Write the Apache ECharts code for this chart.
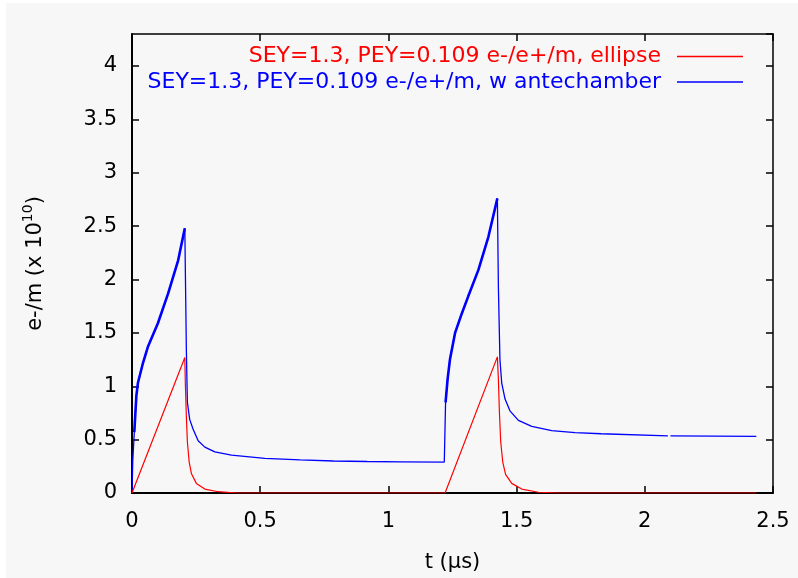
<!DOCTYPE html>
<html>
<head>
<meta charset="utf-8">
<script src="https://cdn.jsdelivr.net/npm/echarts@6/dist/echarts.min.js"></script>
<style>
html, body { margin: 0; padding: 0; background: #fff; }
#main { width: 798px; height: 578px; }
</style>
</head>
<body>
<div id="main"></div>
<script>
// ellipse (red)
var tRed = [0, 0.206, 0.208, 0.212, 0.216, 0.223, 0.232, 0.251, 0.284, 0.336, 0.41,
  1.221, 1.425, 1.429, 1.433, 1.438, 1.446, 1.457, 1.481, 1.52, 1.585, 1.67, 2.435];
var vRed = [0, 1.27, 1.03, 0.72, 0.48, 0.29, 0.18, 0.09, 0.037, 0.012, 0,
  0, 1.275, 1.065, 0.755, 0.48, 0.29, 0.175, 0.09, 0.037, 0.007, 0, 0];

// w antechamber (blue)
var tBlue = [0, 0.003, 0.009, 0.017, 0.023, 0.043, 0.062, 0.101, 0.141, 0.18, 0.206,
  0.212, 0.216, 0.225, 0.238, 0.258, 0.284, 0.323, 0.388, 0.518, 0.656, 0.786, 0.917, 1.05, 1.218,
  1.223, 1.231, 1.24, 1.26, 1.286, 1.311, 1.351, 1.39, 1.425,
  1.429, 1.435, 1.442, 1.455, 1.474, 1.507, 1.559, 1.637, 1.728, 1.83, 2.09, 2.093, 2.1, 2.435];
var vBlue = [0, 0.3, 0.57, 0.91, 1.03, 1.22, 1.37, 1.59, 1.87, 2.18, 2.48,
  1.34, 0.85, 0.69, 0.60, 0.49, 0.43, 0.385, 0.355, 0.325, 0.31, 0.30, 0.295, 0.292, 0.29,
  0.85, 1.07, 1.25, 1.50, 1.68, 1.84, 2.09, 2.40, 2.76,
  1.93, 1.25, 1.03, 0.88, 0.77, 0.68, 0.625, 0.585, 0.565, 0.555, 0.536, null, 0.535, 0.53];

var xTickLabels = ['0', '0.5', '1', '1.5', '2', '2.5'];
var yTickLabels = ['0', '0.5', '1', '1.5', '2', '2.5', '3', '3.5', '4'];

var nameRed = 'SEY=1.3, PEY=0.109 e-/e+/m, ellipse';
var nameBlue = 'SEY=1.3, PEY=0.109 e-/e+/m, w antechamber';

function pairs(t, v) {
  var out = [];
  for (var i = 0; i < t.length; i++) out.push([t[i], v[i] === null ? '-' : v[i]]);
  return out;
}
// rising parts look heavier in the original (noisy data), draw them thicker
function rising(t, v) {
  var out = [];
  for (var i = 0; i < t.length; i++) {
    var a = t[i] >= 0.009 && t[i] <= 0.206;
    var b = t[i] >= 1.223 && t[i] <= 1.425;
    if (a || b) out.push([t[i], v[i]]);
    if (t[i] === 0.206) out.push([0.207, '-']);
  }
  return out;
}

var FONT = 'DejaVu Sans';
var dom = document.getElementById('main');
var myChart = echarts.init(dom);
var option = {
  backgroundColor: '#fff',
  animation: false,
  textStyle: { fontFamily: FONT },
  graphic: [{
    type: 'rect', z: -10, silent: true,
    shape: { x: 6, y: 3, width: 792, height: 575 },
    style: { fill: '#f7f7f7' }
  }],
  grid: { left: 132, right: 25, top: 34, bottom: 80, containLabel: false },
  legend: [{
    data: [{ name: nameRed, textStyle: { color: '#ff0000' } }],
    right: 50, top: 40.5, align: 'right', orient: 'vertical',
    icon: 'rect', itemWidth: 66, itemHeight: 1.5,
    textStyle: { fontFamily: FONT, fontSize: 22, padding: [0, 11, 0, 0] }
  }, {
    data: [{ name: nameBlue, textStyle: { color: '#0000ff' } }],
    right: 50, top: 66, align: 'right', orient: 'vertical',
    icon: 'rect', itemWidth: 66, itemHeight: 1.5,
    textStyle: { fontFamily: FONT, fontSize: 22, padding: [0, 11, 0, 0] }
  }],
  xAxis: [{
    type: 'value', min: 0, max: 2.5, interval: 0.5, position: 'bottom',
    name: 't (\u03bcs)', nameLocation: 'middle', nameGap: 59,
    nameTextStyle: { color: '#000', fontSize: 21, fontFamily: FONT },
    axisLine: { show: true, onZero: false, lineStyle: { color: '#000', width: 2 } },
    axisTick: { show: true, inside: true, length: 7, lineStyle: { color: '#000', width: 1.5 } },
    axisLabel: {
      color: '#000', fontSize: 21, fontFamily: FONT, margin: 18,
      formatter: function (v) { return xTickLabels[Math.round(v / 0.5)] || ''; }
    },
    splitLine: { show: false }
  }, {
    type: 'value', min: 0, max: 2.5, interval: 0.5, position: 'top',
    axisLine: { show: true, onZero: false, lineStyle: { color: '#000', width: 1.5 } },
    axisTick: { show: true, inside: true, length: 7, lineStyle: { color: '#000', width: 1.5 } },
    axisLabel: { show: false },
    splitLine: { show: false }
  }],
  yAxis: [{
    type: 'value', min: 0, max: 4.3, interval: 0.5, position: 'left',
    name: 'e-/m (x 10{sup|10})', nameLocation: 'middle', nameGap: 81,
    nameTextStyle: {
      color: '#000', fontSize: 21, fontFamily: FONT, lineHeight: 30,
      rich: { sup: { fontSize: 14, fontFamily: FONT, color: '#000', verticalAlign: 'top', lineHeight: 30 } }
    },
    axisLine: { show: true, onZero: false, lineStyle: { color: '#000', width: 2 } },
    axisTick: { show: true, inside: true, length: 7, lineStyle: { color: '#000', width: 1.5 } },
    axisLabel: {
      color: '#000', fontSize: 21, fontFamily: FONT, margin: 15, showMaxLabel: false,
      formatter: function (v) {
        var i = Math.round(v / 0.5);
        return Math.abs(v - i * 0.5) < 1e-6 ? (yTickLabels[i] || '') : '';
      }
    },
    splitLine: { show: false }
  }, {
    type: 'value', min: 0, max: 4.3, interval: 0.5, position: 'right',
    axisLine: { show: true, onZero: false, lineStyle: { color: '#000', width: 1.5 } },
    axisTick: { show: true, inside: true, length: 7, lineStyle: { color: '#000', width: 1.5 } },
    axisLabel: { show: false },
    splitLine: { show: false }
  }],
  series: [{
    name: nameBlue, type: 'line', showSymbol: false, symbol: 'none',
    color: '#0000ff', lineStyle: { color: '#0000ff', width: 1.3 },
    connectNulls: false, z: 3,
    data: pairs(tBlue, vBlue)
  }, {
    name: 'blue-rise', type: 'line', showSymbol: false, symbol: 'none',
    color: '#0000ff', lineStyle: { color: '#0000ff', width: 2.6 },
    connectNulls: false, z: 3,
    data: rising(tBlue, vBlue)
  }, {
    name: nameRed, type: 'line', showSymbol: false, symbol: 'none',
    color: '#ff0000', lineStyle: { color: '#ff0000', width: 1.2 }, z: 4,
    data: pairs(tRed, vRed)
  }]
};
if (option && typeof option === 'object') {
  myChart.setOption(option, true);
}
</script>
</body>
</html>
